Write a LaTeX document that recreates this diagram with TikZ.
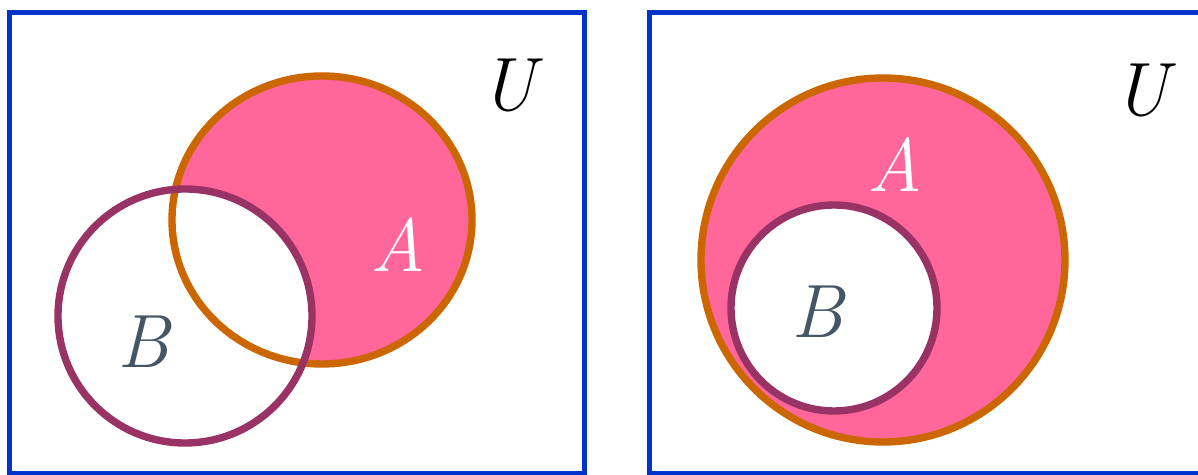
\documentclass[tikz,border=0pt]{standalone}
\usepackage{fontspec}
\definecolor{frameblue}{HTML}{0033CC}
\definecolor{setaline}{HTML}{CC6600}
\definecolor{setafill}{HTML}{FF6699}
\definecolor{setbline}{HTML}{993366}
\definecolor{setbtext}{HTML}{445566}
\tikzset{
  universe/.style={draw=frameblue, line width=2.85pt},
  setaedge/.style={draw=setaline, line width=4.2pt},
  setbedge/.style={draw=setbline, line width=4.2pt},
  setlabel/.style={font=\fontsize{43}{43}\selectfont\itshape, inner sep=0pt}
}
\begin{document}
\begin{tikzpicture}[x=0.02cm, y=-0.02cm]
\useasboundingbox (0,0) rectangle (1198,475);
\clip (0,0) rectangle (1198,475);
% left: A without B
\fill[setafill] (322,220) ellipse [x radius=150, y radius=144];
\fill[white] (185,316) circle [radius=127];
\draw[setaedge] (322,220) ellipse [x radius=150, y radius=144];
\draw[setbedge] (185,316) circle [radius=127];
\draw[universe] (9.5,12.5) rectangle (584,474);
\node[setlabel, text=white] (al) at (398,245) {A};
\node[setlabel, text=setbtext] (bl) at (143,342) {B};
\node[setlabel] (ul) at (508,86) {U};
% right: B inside A
\fill[setafill] (883,260) circle [radius=182];
\fill[white] (834,308) circle [radius=103];
\draw[setaedge] (883,260) circle [radius=182];
\draw[setbedge] (834,308) circle [radius=103];
\draw[universe] (649.5,12.5) rectangle (1215,474);
\node[setlabel, text=white] (ar) at (895,165) {A};
\node[setlabel, text=setbtext] (br) at (817,312) {B};
\node[setlabel] (ur) at (1141,91) {U};
\end{tikzpicture}
\end{document}
